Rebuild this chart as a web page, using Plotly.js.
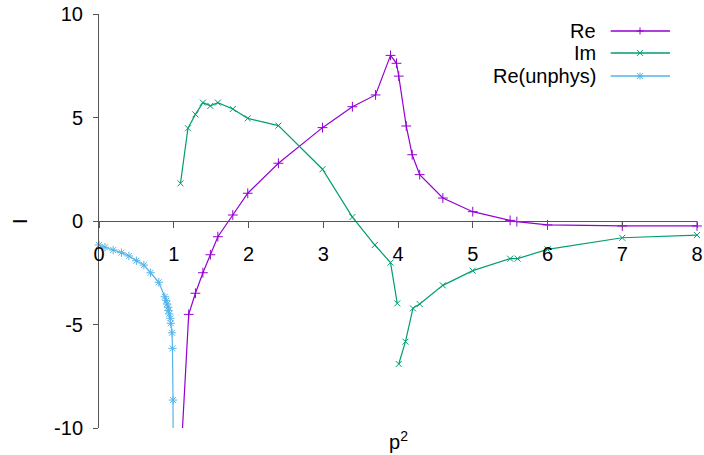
<!DOCTYPE html>
<html>
<head>
<meta charset="utf-8">
<script src="https://cdn.plot.ly/plotly-3.0.1.min.js"></script>
<style>body{margin:0;} #chart{width:704px;height:455px;}</style>
</head>
<body>
<div id="chart"></div>
<script>
// Re, physical sheet (first point lies below the plotted range)
const reX = [1.09, 1.20, 1.29, 1.39, 1.49, 1.59, 1.79, 1.99, 2.40, 2.99, 3.39, 3.70, 3.90, 3.98, 4.01, 4.11, 4.19, 4.29, 4.60, 5.00, 5.50, 5.59, 6.00, 7.00, 8.00];
const reY = [-11.8, -4.51, -3.49, -2.50, -1.63, -0.76, 0.29, 1.34, 2.79, 4.51, 5.52, 6.09, 8.00, 7.62, 7.00, 4.59, 3.20, 2.24, 1.11, 0.45, 0.03, -0.03, -0.19, -0.24, -0.24];

// Im, with a gap at p^2 = 4
const imX = [1.09, 1.19, 1.29, 1.39, 1.49, 1.59, 1.79, 1.99, 2.40, 2.99, 3.39, 3.69, 3.90, 3.99, 4.00, 4.01, 4.10, 4.20, 4.29, 4.60, 5.00, 5.50, 5.60, 6.00, 7.00, 8.00];
const imY = [1.82, 4.48, 5.15, 5.72, 5.56, 5.72, 5.41, 4.96, 4.61, 2.50, 0.19, -1.16, -2.01, -3.98, null, -6.91, -5.83, -4.22, -4.01, -3.11, -2.40, -1.82, -1.82, -1.37, -0.81, -0.68];

// Re on the unphysical sheet
const unX = [0.00, 0.08, 0.19, 0.30, 0.40, 0.50, 0.60, 0.69, 0.80, 0.88, 0.90, 0.91, 0.925, 0.93, 0.94, 0.955, 0.96, 0.977, 0.983, 0.99, 0.995];
const unY = [-1.16, -1.27, -1.40, -1.53, -1.69, -1.92, -2.13, -2.50, -2.96, -3.66, -3.85, -4.01, -4.17, -4.33, -4.49, -4.70, -4.94, -5.40, -6.15, -8.65, -14.0];

const xTicks = [0, 1, 2, 3, 4, 5, 6, 7, 8];
const yTicks = [-10, -5, 0, 5, 10];
const yTickText = ['-10', '-5', '0', '5', '10'];
const seriesNames = ['Re', 'Im', 'Re(unphys)'];
const seriesColors = ['#9400d3', '#009e73', '#56b4e9'];

const FONT = 'Liberation Sans, Arial, sans-serif';
const AXIS = '#555555';

function series(x, y, i, symbol, size) {
  return {
    x: x, y: y, name: seriesNames[i],
    type: 'scatter', mode: 'lines+markers',
    line: { color: seriesColors[i], width: 1.2 },
    marker: { symbol: symbol, size: size, color: seriesColors[i], line: { color: seriesColors[i], width: 1 } },
    cliponaxis: false,
    showlegend: false
  };
}

const traces = [
  series(reX, reY, 0, 'cross-thin-open', 7),
  series(imX, imY, 1, 'x-thin-open', 6),
  series(unX, unY, 2, 'asterisk-open', 7)
];

// hand-made key: text on the left, sample on the right (gnuplot style)
const keyRows = [0.959, 0.906, 0.850];
const keyShapes = [];
const keyNotes = [];
const keyGlyphs = [
  [[-3.5, 0, 3.5, 0], [0, -3.5, 0, 3.5]],
  [[-3, -3, 3, 3], [-3, 3, 3, -3]],
  [[-3.5, 0, 3.5, 0], [0, -3.5, 0, 3.5], [-3, -3, 3, 3], [-3, 3, 3, -3]]
];
keyRows.forEach(function(yy, i) {
  keyShapes.push({ type: 'line', xref: 'paper', yref: 'paper', x0: 0.8557, x1: 0.9548, y0: yy, y1: yy,
    line: { color: seriesColors[i], width: 1.5 } });
  keyGlyphs[i].forEach(function(g) {
    keyShapes.push({ type: 'line', xref: 'paper', yref: 'paper', xsizemode: 'pixel', ysizemode: 'pixel',
      xanchor: 0.9047, yanchor: yy, x0: g[0], y0: g[1], x1: g[2], y1: g[3],
      line: { color: seriesColors[i], width: 1 } });
  });
  keyNotes.push({ text: seriesNames[i], xref: 'paper', yref: 'paper', x: 0.834, y: yy,
    xanchor: 'right', yanchor: 'middle', showarrow: false, font: { family: FONT, size: 20, color: '#000' } });
});

const layout = {
  width: 704, height: 455,
  margin: { l: 99, r: 7, t: 14, b: 27 },
  paper_bgcolor: '#fff', plot_bgcolor: '#fff',
  font: { family: FONT, size: 20, color: '#000' },
  xaxis: {
    range: [0, 8], anchor: 'free', position: 0.5,
    showline: true, linecolor: AXIS, linewidth: 1,
    ticks: 'outside', ticklen: 6, tickcolor: AXIS, tickwidth: 1,
    tickvals: xTicks, ticklabelstandoff: 9,
    showgrid: false, zeroline: false
  },
  xaxis2: {
    range: [0, 8], overlaying: 'x', anchor: 'free', position: 0.5,
    showline: false, ticks: 'inside', ticklen: 6, tickcolor: AXIS, tickwidth: 1,
    tickvals: xTicks, showticklabels: false, showgrid: false, zeroline: false
  },
  yaxis: {
    range: [-10, 10],
    showline: true, linecolor: AXIS, linewidth: 1,
    ticks: 'outside', ticklen: 5, tickcolor: AXIS, tickwidth: 1,
    tickvals: yTicks, ticktext: yTickText, ticklabelstandoff: 6,
    showgrid: false, zeroline: false
  },
  yaxis2: {
    range: [-10, 10], overlaying: 'y', anchor: 'free', position: 0,
    showline: false, ticks: 'inside', ticklen: 6, tickcolor: AXIS, tickwidth: 1,
    tickvals: yTicks, showticklabels: false, showgrid: false, zeroline: false
  },
  shapes: keyShapes,
  annotations: keyNotes.concat([
    { text: 'p<sup>2</sup>', xref: 'paper', yref: 'paper', x: 0.5, y: -0.03, xanchor: 'center', yanchor: 'middle',
      showarrow: false, font: { family: FONT, size: 20, color: '#000' } },
    { text: 'I', xref: 'paper', yref: 'paper', x: -0.132, y: 0.5, textangle: -90, xanchor: 'center', yanchor: 'middle',
      showarrow: false, font: { family: FONT, size: 20, color: '#000' } }
  ]),
  showlegend: false
};

Plotly.newPlot('chart', traces, layout, { displayModeBar: false, staticPlot: true });
</script>
</body>
</html>
